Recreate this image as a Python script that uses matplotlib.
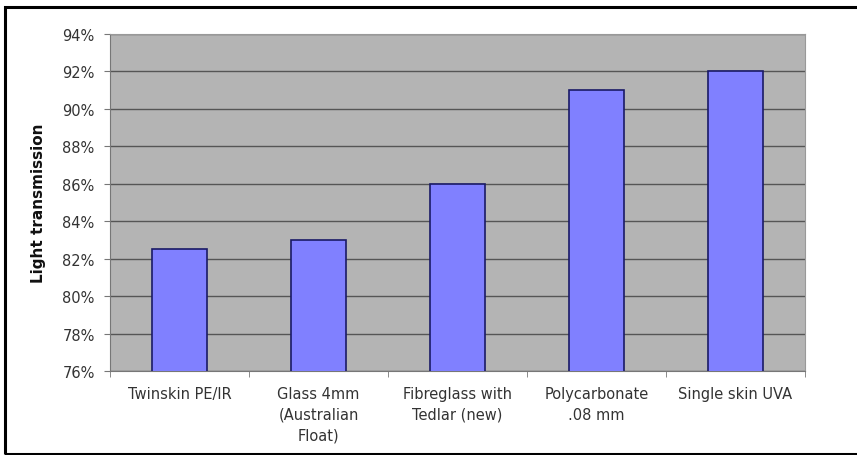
import numpy as np
import matplotlib.pyplot as plt
from matplotlib.patches import Rectangle
from matplotlib.ticker import FuncFormatter, FixedLocator

categories = ["Twinskin PE/IR", "Glass 4mm\n(Australian\nFloat)", "Fibreglass with\nTedlar (new)",
              "Polycarbonate\n.08 mm", "Single skin UVA"]
values = [82.5, 83.0, 86.0, 91.0, 92.0]
y_ticks = [76, 78, 80, 82, 84, 86, 88, 90, 92, 94]

plt.rcParams['font.family'] = ['DejaVu Sans']

fig = plt.figure(figsize=(8.57, 4.56), dpi=100)
fig.patch.set_facecolor('white')
# outer black frame (right side runs off the image)
fig.patches.append(Rectangle((5 / 857, 1 / 456), 860 / 857, 447 / 456, transform=fig.transFigure,
                             fill=False, edgecolor='black', linewidth=2.2))

ax = fig.add_axes([110 / 857, 1 - 372 / 456, 695 / 857, 337 / 456])
ax.set_facecolor('#b4b4b4')

x = np.arange(len(categories))
ax.bar(x, values, width=0.4, bottom=0, color='#8080ff', edgecolor='#1a1a66', linewidth=1.2, zorder=3)

ax.set_xlim(-0.5, len(categories) - 0.5)
ax.set_ylim(76, 94)
ax.set_yticks(y_ticks)
ax.yaxis.set_major_formatter(FuncFormatter(lambda v, p: f"{v:.0f}%"))
ax.grid(axis='y', color='#555555', linewidth=1.0, zorder=1)

ax.set_xticks(x)
ax.set_xticklabels(categories, fontsize=10.5, color='#333333', linespacing=1.45, va='top')
ax.tick_params(axis='x', which='major', length=0, pad=11)
ax.xaxis.set_minor_locator(FixedLocator(np.arange(-0.5, len(categories), 1.0)))
ax.tick_params(axis='x', which='minor', length=4, color='#777777')
ax.tick_params(axis='y', length=4, color='#777777', labelsize=10.5, labelcolor='#333333', pad=7)

for side in ['top', 'right']:
    ax.spines[side].set_color('#999999')
ax.spines['left'].set_color('#777777')
ax.spines['bottom'].set_color('#777777')

ax.set_ylabel('Light transmission', fontsize=11, fontweight='bold', color='#111111', labelpad=12)

fig.savefig('out.png', dpi=100)
